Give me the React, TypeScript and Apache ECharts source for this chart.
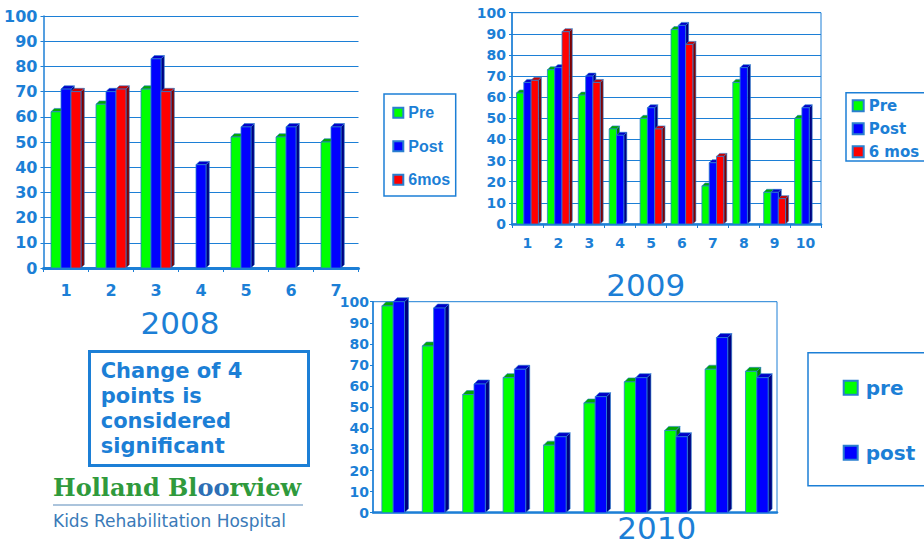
import React, { useEffect, useRef } from "react";
import * as echarts from "echarts";

// ---------- data ----------
const cat2008 = ["1", "2", "3", "4", "5", "6", "7"];
const pre2008 = [62, 65, 71, null, 52, 52, 50];
const post2008 = [71, 70, 83, 41, 56, 56, 56];
const mos2008 = [70, 71, 70, null, null, null, null];

const cat2009 = ["1", "2", "3", "4", "5", "6", "7", "8", "9", "10"];
const pre2009 = [62, 73, 61, 45, 50, 92, 18, 67, 15, 50];
const post2009 = [67, 74, 70, 42, 55, 94, 29, 74, 15, 55];
const mos2009 = [68, 91, 67, null, 45, 85, 32, null, 12, null];

const cat2010 = ["1", "2", "3", "4", "5", "6", "7", "8", "9", "10"];
const pre2010 = [98, 79, 56, 64, 32, 52, 62, 39, 68, 67];
const post2010 = [100, 97, 61, 68, 36, 55, 64, 36, 83, 64];

const yMin = 0;
const yMax = 100;
const yStep = 10;

// ---------- styles ----------
const BLUE_TXT = "#1c7fd6";
const LINE = "#1c7fd6";
const STROKE = "#2a7fd0";
const DEJAVU = '"DejaVu Sans", Verdana, sans-serif';

const COLORS = {
  pre: { front: "#00ff00", top: "#00a800", side: "#007a00" },
  post: { front: "#0000ff", top: "#0000c8", side: "#000080" },
  mos: { front: "#ff0000", top: "#c80000", side: "#800000" },
};

type Col = { front: string; top: string; side: string };

function render3D(slot: number, n: number, frac: number, d: number, c: Col) {
  return (_params: any, api: any) => {
    const v = api.value(1);
    if (v == null || isNaN(v)) return null;
    const idx = api.value(0);
    const base = api.coord([idx, 0]);
    const tp = api.coord([idx, v]);
    const band = api.size([1, 0])[0];
    const w = band * frac;
    const x0 = base[0] + (slot - (n - 1) / 2) * w - w / 2;
    const yT = tp[1];
    const yB = base[1];
    return {
      type: "group",
      children: [
        {
          type: "polygon",
          shape: { points: [[x0 + w, yT], [x0 + w + d, yT - d], [x0 + w + d, yB - d], [x0 + w, yB]] },
          style: { fill: c.side, stroke: STROKE, lineWidth: 0.6 },
        },
        {
          type: "polygon",
          shape: { points: [[x0, yT], [x0 + d, yT - d], [x0 + w + d, yT - d], [x0 + w, yT]] },
          style: { fill: c.top, stroke: STROKE, lineWidth: 0.6 },
        },
        {
          type: "rect",
          shape: { x: x0, y: yT, width: w, height: yB - yT },
          style: { fill: c.front, stroke: STROKE, lineWidth: 0.8 },
        },
      ],
    };
  };
}

function toData(vals: (number | null)[]) {
  const out: number[][] = [];
  vals.forEach((v, i) => {
    if (v != null) out.push([i, v]);
  });
  return out;
}

function series3D(name: string, vals: (number | null)[], gi: number, slot: number, n: number, frac: number, d: number, c: Col) {
  return {
    type: "custom",
    name,
    xAxisIndex: gi,
    yAxisIndex: gi,
    data: toData(vals),
    encode: { x: 0, y: 1 },
    itemStyle: { color: c.front, borderColor: STROKE, borderWidth: 1 },
    renderItem: render3D(slot, n, frac, d, c),
  };
}

function yAxisCfg(gi: number, fontSize: number, split: boolean, margin: number) {
  return {
    type: "value",
    gridIndex: gi,
    min: yMin,
    max: yMax,
    interval: yStep,
    axisLine: { show: true, lineStyle: { color: LINE, width: 1.5 } },
    axisTick: { show: true, length: 3, lineStyle: { color: LINE } },
    axisLabel: { color: BLUE_TXT, fontFamily: DEJAVU, fontWeight: "bold", fontSize, margin },
    splitLine: { show: split, lineStyle: { color: LINE, width: 1 } },
  };
}

function xAxisCfg(gi: number, cats: string[], showLabel: boolean, fontSize: number, margin: number, lw: number) {
  return {
    type: "category",
    gridIndex: gi,
    data: cats,
    axisLine: { show: true, lineStyle: { color: LINE, width: lw } },
    axisTick: { show: showLabel, length: 4, lineStyle: { color: LINE } },
    axisLabel: { show: showLabel, color: BLUE_TXT, fontFamily: DEJAVU, fontWeight: "bold", fontSize, margin },
    splitLine: { show: false },
  };
}

export default function App() {
  const ref = useRef<HTMLDivElement>(null);
  useEffect(() => {
    if (!ref.current) return;
    const chart = echarts.init(ref.current, null, { renderer: "svg" });
    const option: any = {
      animation: false,
      backgroundColor: "#ffffff",
      grid: [
        { left: 43.5, top: 16, width: 315, height: 252 },
        { left: 512, top: 12.7, width: 309, height: 211.3, show: true, borderColor: LINE, borderWidth: 1 },
        { left: 373, top: 301.7, width: 404, height: 211, show: true, borderColor: LINE, borderWidth: 1 },
      ],
      xAxis: [
        xAxisCfg(0, cat2008, true, 16, 14, 3),
        xAxisCfg(1, cat2009, true, 14, 12, 2.5),
        xAxisCfg(2, cat2010, false, 14, 8, 2.5),
      ],
      yAxis: [yAxisCfg(0, 16, true, 6), yAxisCfg(1, 14, true, 6), yAxisCfg(2, 14, false, 4)],
      legend: [
        {
          data: ["Pre", "Post", "6mos"],
          orient: "vertical",
          left: 392.3,
          top: 104.7,
          padding: 0,
          itemWidth: 10,
          itemHeight: 10,
          itemGap: 17.5,
          icon: "rect",
          selectedMode: false,
          textStyle: { color: BLUE_TXT, fontFamily: '"Liberation Sans", Arial, sans-serif', fontWeight: "bold", fontSize: 16 },
        },
        {
          data: ["Pre", "Post", "6 mos"],
          orient: "vertical",
          left: 851.7,
          top: 98.2,
          padding: 0,
          itemWidth: 11,
          itemHeight: 11,
          itemGap: 8,
          icon: "rect",
          selectedMode: false,
          textStyle: { color: BLUE_TXT, fontFamily: DEJAVU, fontWeight: "bold", fontSize: 15 },
        },
        {
          data: ["pre", "post"],
          orient: "vertical",
          left: 842.7,
          top: 377.7,
          padding: 0,
          itemWidth: 14,
          itemHeight: 14,
          itemGap: 45,
          icon: "rect",
          selectedMode: false,
          textStyle: { color: BLUE_TXT, fontFamily: DEJAVU, fontWeight: "bold", fontSize: 20, padding: [0, 0, 0, 3] },
        },
      ],
      series: [
        series3D("Pre", pre2008, 0, 0, 3, 0.222, 3.3, COLORS.pre),
        series3D("Post", post2008, 0, 1, 3, 0.222, 3.3, COLORS.post),
        series3D("6mos", mos2008, 0, 2, 3, 0.222, 3.3, COLORS.mos),
        series3D("Pre", pre2009, 1, 0, 3, 0.236, 3, COLORS.pre),
        series3D("Post", post2009, 1, 1, 3, 0.236, 3, COLORS.post),
        series3D("6 mos", mos2009, 1, 2, 3, 0.236, 3, COLORS.mos),
        series3D("pre", pre2010, 2, 0, 2, 0.28, 4, COLORS.pre),
        series3D("post", post2010, 2, 1, 2, 0.28, 4, COLORS.post),
      ],
      graphic: [
        // legend boxes
        { type: "rect", shape: { x: 384, y: 94, width: 71.7, height: 102 }, style: { fill: "none", stroke: LINE, lineWidth: 1.5 } },
        { type: "rect", shape: { x: 846, y: 92.7, width: 90, height: 68.3 }, style: { fill: "none", stroke: LINE, lineWidth: 1.5 } },
        { type: "rect", shape: { x: 808, y: 352.7, width: 130, height: 133 }, style: { fill: "none", stroke: LINE, lineWidth: 1.5 } },
        // year titles
        { type: "text", x: 180, y: 323, style: { text: "2008", fill: BLUE_TXT, font: '31px "DejaVu Sans", Verdana, sans-serif', textAlign: "center", textVerticalAlign: "middle" } },
        { type: "text", x: 645.7, y: 285, style: { text: "2009", fill: BLUE_TXT, font: '31px "DejaVu Sans", Verdana, sans-serif', textAlign: "center", textVerticalAlign: "middle" } },
        { type: "text", x: 656.7, y: 528, style: { text: "2010", fill: BLUE_TXT, font: '31px "DejaVu Sans", Verdana, sans-serif', textAlign: "center", textVerticalAlign: "middle" } },
        // note box
        { type: "rect", shape: { x: 89.5, y: 351.5, width: 219, height: 114 }, style: { fill: "#ffffff", stroke: LINE, lineWidth: 3 } },
        {
          type: "text",
          x: 100.7,
          y: 359,
          style: {
            text: "Change of 4\npoints is\nconsidered\nsignificant",
            fill: BLUE_TXT,
            fontFamily: DEJAVU,
            fontWeight: "bold",
            fontSize: 21,
            lineHeight: 24.8,
            textAlign: "left",
            textVerticalAlign: "top",
          },
        },
        // logo
        {
          type: "text",
          x: 53,
          y: 487,
          style: {
            text: "{g|Holland Bl}{b|oo}{g|rview}",
            textVerticalAlign: "middle",
            rich: {
              g: { fill: "#2f9a3c", fontFamily: '"DejaVu Serif", serif', fontWeight: "bold", fontSize: 24 },
              b: { fill: "#2d6fb5", fontFamily: '"DejaVu Serif", serif', fontWeight: "bold", fontSize: 24 },
            },
          },
        },
        { type: "line", shape: { x1: 53, y1: 505, x2: 303, y2: 505 }, style: { stroke: "#8fb1d1", lineWidth: 1.5 } },
        {
          type: "text",
          x: 53,
          y: 521,
          style: {
            text: "Kids Rehabilitation Hospital",
            fill: "#3a7ab8",
            fontFamily: '"DejaVu Sans", sans-serif',
            fontSize: 17,
            textVerticalAlign: "middle",
          },
        },
      ],
    };
    chart.setOption(option);
    return () => chart.dispose();
  }, []);
  return <div ref={ref} style={{ position: "fixed", left: 0, top: 0, width: 924, height: 546 }} />;
}
